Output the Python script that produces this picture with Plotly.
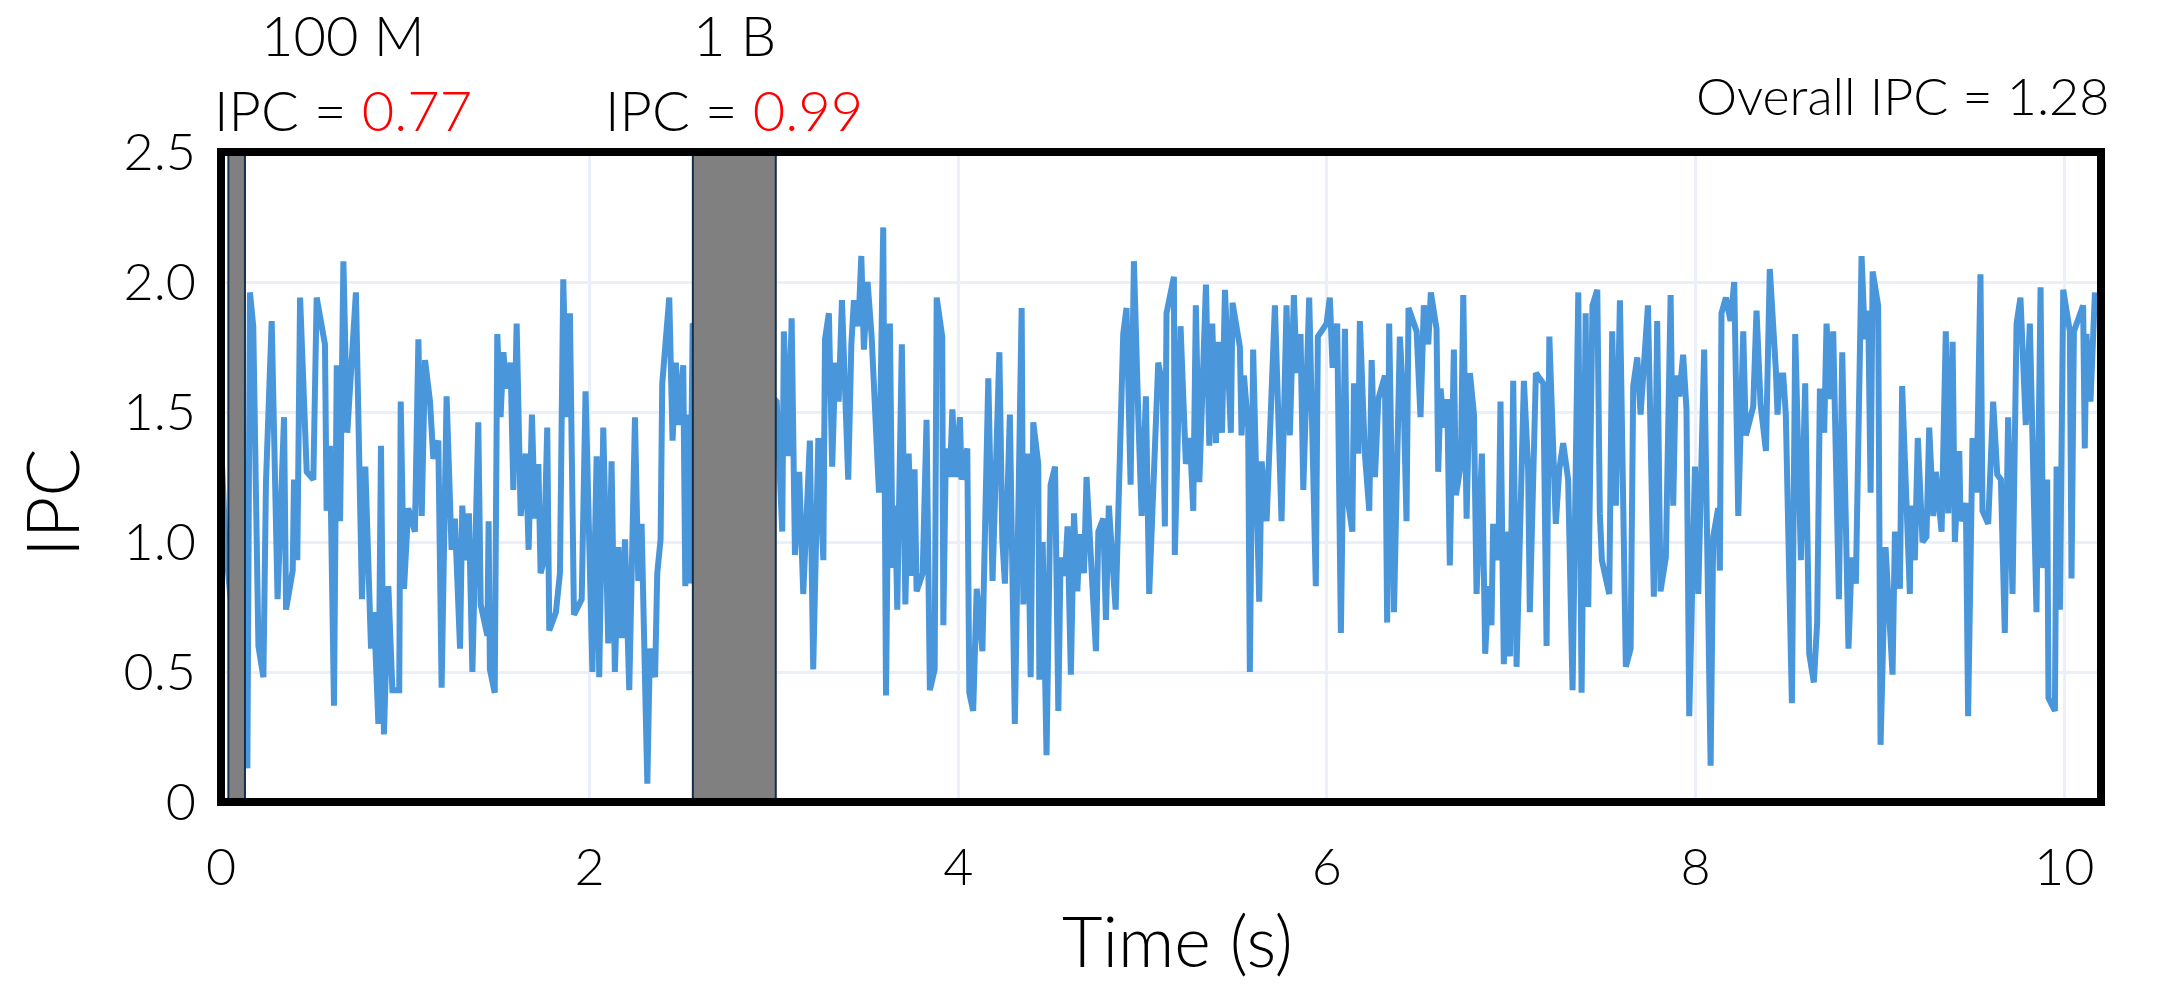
import plotly.graph_objects as go

# IPC trace sampled over the 10 s run
time_s = [
    0.000, 0.025, 0.143, 0.157, 0.175, 0.203, 0.230, 0.244, 0.275, 0.307, 0.342, 0.353, 0.389, 0.396, 0.414, 0.429,
    0.465, 0.501, 0.519, 0.564, 0.573, 0.591, 0.613, 0.628, 0.646, 0.664, 0.685, 0.732, 0.765, 0.783, 0.814, 0.830,
    0.854, 0.868, 0.884, 0.908, 0.930, 0.967, 0.975, 0.993, 1.016, 1.034, 1.052, 1.071, 1.089, 1.107, 1.134, 1.152,
    1.179, 1.197, 1.224, 1.251, 1.269, 1.297, 1.309, 1.327, 1.345, 1.364, 1.396, 1.409, 1.445, 1.452, 1.459, 1.485,
    1.499, 1.517, 1.532, 1.550, 1.571, 1.586, 1.604, 1.626, 1.653, 1.669, 1.687, 1.703, 1.722, 1.734, 1.752, 1.770,
    1.781, 1.817, 1.839, 1.857, 1.875, 1.893, 1.915, 1.957, 1.978, 2.015, 2.038, 2.052, 2.074, 2.101, 2.119, 2.137,
    2.156, 2.174, 2.192, 2.215, 2.246, 2.264, 2.282, 2.313, 2.327, 2.355, 2.367, 2.385, 2.394, 2.432, 2.450, 2.468,
    2.486, 2.508, 2.519, 2.535, 2.544, 2.559, 3.015, 3.045, 3.054, 3.078, 3.096, 3.114, 3.137, 3.159, 3.195, 3.213,
    3.241, 3.268, 3.277, 3.298, 3.316, 3.333, 3.351, 3.369, 3.403, 3.420, 3.434, 3.458, 3.474, 3.488, 3.508, 3.530,
    3.570, 3.593, 3.608, 3.629, 3.644, 3.658, 3.669, 3.694, 3.713, 3.731, 3.749, 3.763, 3.774, 3.807, 3.828, 3.846,
    3.872, 3.883, 3.913, 3.919, 3.933, 3.955, 3.968, 3.986, 4.009, 4.018, 4.049, 4.060, 4.081, 4.100, 4.131, 4.163,
    4.186, 4.223, 4.239, 4.253, 4.280, 4.307, 4.344, 4.353, 4.374, 4.393, 4.407, 4.434, 4.440, 4.458, 4.479, 4.501,
    4.525, 4.543, 4.555, 4.579, 4.593, 4.611, 4.628, 4.646, 4.660, 4.682, 4.696, 4.747, 4.760, 4.787, 4.801, 4.817,
    4.854, 4.895, 4.913, 4.935, 4.953, 4.977, 4.995, 5.018, 5.036, 5.085, 5.109, 5.121, 5.130, 5.170, 5.175, 5.206,
    5.235, 5.257, 5.275, 5.289, 5.308, 5.344, 5.362, 5.378, 5.398, 5.412, 5.431, 5.447, 5.479, 5.488, 5.528, 5.537,
    5.550, 5.573, 5.582, 5.600, 5.633, 5.646, 5.673, 5.718, 5.754, 5.781, 5.799, 5.821, 5.836, 5.857, 5.872, 5.904,
    5.940, 5.951, 5.998, 6.016, 6.031, 6.056, 6.076, 6.098, 6.110, 6.138, 6.147, 6.170, 6.179, 6.206, 6.230, 6.243,
    6.261, 6.279, 6.315, 6.327, 6.338, 6.364, 6.396, 6.418, 6.432, 6.443, 6.487, 6.508, 6.526, 6.550, 6.564, 6.595,
    6.604, 6.617, 6.635, 6.653, 6.667, 6.689, 6.700, 6.727, 6.740, 6.758, 6.776, 6.798, 6.812, 6.841, 6.859, 6.877,
    6.893, 6.902, 6.930, 6.942, 6.960, 6.984, 6.993, 7.011, 7.029, 7.069, 7.092, 7.101, 7.134, 7.174, 7.192, 7.207,
    7.242, 7.261, 7.282, 7.309, 7.333, 7.364, 7.382, 7.404, 7.418, 7.441, 7.467, 7.481, 7.492, 7.532, 7.548, 7.568,
    7.590, 7.622, 7.648, 7.662, 7.684, 7.702, 7.742, 7.774, 7.792, 7.810, 7.839, 7.865, 7.879, 7.893, 7.912, 7.933,
    7.951, 7.966, 7.997, 8.015, 8.047, 8.082, 8.096, 8.123, 8.132, 8.141, 8.165, 8.190, 8.210, 8.232, 8.259, 8.273,
    8.313, 8.331, 8.353, 8.382, 8.403, 8.436, 8.445, 8.458, 8.476, 8.490, 8.523, 8.541, 8.572, 8.595, 8.617, 8.642,
    8.660, 8.675, 8.698, 8.711, 8.729, 8.747, 8.778, 8.796, 8.830, 8.847, 8.870, 8.901, 8.919, 8.937, 8.950, 8.961,
    8.991, 9.004, 9.031, 9.069, 9.082, 9.109, 9.121, 9.163, 9.168, 9.190, 9.206, 9.232, 9.253, 9.268, 9.290, 9.304,
    9.335, 9.358, 9.371, 9.395, 9.407, 9.431, 9.438, 9.467, 9.479, 9.503, 9.525, 9.546, 9.557, 9.588, 9.615, 9.637,
    9.657, 9.678, 9.696, 9.720, 9.742, 9.763, 9.792, 9.814, 9.850, 9.872, 9.886, 9.908, 9.915, 9.950, 9.959, 9.977,
    9.995, 10.031, 10.040, 10.053, 10.103, 10.112, 10.121, 10.143, 10.167,
]

ipc = [
    1.39, 0.98, 0.13, 1.96, 1.83, 0.60, 0.48, 1.23, 1.85, 0.78, 1.48, 0.74, 0.89, 1.24, 0.93, 1.94,
    1.27, 1.24, 1.94, 1.76, 1.12, 1.37, 0.37, 1.68, 1.08, 2.08, 1.42, 1.96, 0.78, 1.29, 0.59, 0.73,
    0.30, 1.37, 0.26, 0.83, 0.43, 0.43, 1.54, 0.82, 1.13, 1.08, 1.04, 1.78, 1.10, 1.70, 1.54, 1.32,
    1.39, 0.44, 1.56, 0.97, 1.09, 0.59, 1.14, 0.93, 1.11, 0.50, 1.46, 0.76, 0.64, 1.08, 0.51, 0.42,
    1.80, 1.48, 1.73, 1.59, 1.69, 1.20, 1.84, 1.10, 1.34, 0.97, 1.49, 1.09, 1.30, 0.88, 0.93, 1.44,
    0.66, 0.73, 0.88, 2.01, 1.48, 1.88, 0.72, 0.78, 1.58, 0.50, 1.33, 0.48, 1.44, 0.61, 1.31, 0.50,
    0.98, 0.63, 1.01, 0.43, 1.48, 0.85, 1.07, 0.07, 0.59, 0.48, 0.88, 1.01, 1.61, 1.94, 1.39, 1.69,
    1.45, 1.68, 0.83, 1.49, 0.84, 1.84, 1.54, 1.04, 1.81, 1.33, 1.86, 0.95, 1.27, 0.80, 1.39, 0.51,
    1.40, 0.93, 1.78, 1.88, 1.29, 1.69, 1.54, 1.93, 1.24, 1.76, 1.93, 1.83, 2.10, 1.74, 2.00, 1.79,
    1.19, 2.21, 0.41, 1.84, 0.90, 1.14, 0.74, 1.76, 0.76, 1.34, 0.87, 1.28, 0.81, 0.88, 1.47, 0.43,
    0.51, 1.94, 1.79, 0.68, 1.36, 1.25, 1.51, 1.25, 1.48, 1.24, 1.36, 0.42, 0.35, 0.82, 0.58, 1.63,
    0.85, 1.73, 1.01, 0.84, 1.49, 0.30, 1.90, 0.76, 1.34, 0.48, 1.46, 1.30, 0.47, 1.00, 0.18, 1.22,
    1.29, 0.35, 0.94, 0.87, 1.06, 0.49, 1.11, 0.81, 1.03, 0.88, 1.25, 0.58, 1.04, 1.09, 0.70, 1.14,
    0.74, 1.80, 1.90, 1.22, 2.08, 1.48, 1.10, 1.56, 0.80, 1.69, 1.60, 1.06, 1.88, 2.02, 0.95, 1.83,
    1.30, 1.40, 1.12, 1.91, 1.23, 1.99, 1.37, 1.84, 1.38, 1.77, 1.42, 1.97, 1.42, 1.92, 1.75, 1.41,
    1.64, 1.44, 0.50, 1.74, 0.77, 1.31, 1.08, 1.91, 1.08, 1.91, 1.41, 1.95, 1.65, 1.80, 1.20, 1.94,
    0.83, 1.79, 1.84, 1.94, 1.67, 1.84, 0.65, 1.82, 1.18, 1.04, 1.61, 1.34, 1.85, 1.34, 1.12, 1.70,
    1.25, 1.55, 1.64, 0.69, 1.84, 0.73, 1.79, 1.50, 1.08, 1.90, 1.81, 1.48, 1.91, 1.76, 1.96, 1.82,
    1.27, 1.59, 1.44, 1.55, 0.91, 1.74, 1.18, 1.30, 1.95, 1.09, 1.65, 1.49, 0.80, 1.34, 0.57, 0.83,
    0.68, 1.07, 0.93, 1.54, 0.53, 1.04, 0.56, 1.62, 0.52, 1.62, 1.28, 0.73, 1.65, 1.61, 0.60, 1.79,
    1.07, 1.28, 1.38, 1.24, 0.43, 1.96, 0.42, 1.88, 0.75, 1.91, 1.97, 1.11, 0.93, 0.80, 1.81, 1.14,
    1.93, 0.52, 0.59, 1.60, 1.71, 1.49, 1.91, 0.79, 1.85, 0.81, 0.94, 1.95, 1.14, 1.64, 1.56, 1.72,
    1.51, 0.33, 1.29, 0.80, 1.74, 0.14, 1.02, 1.13, 0.89, 1.88, 1.94, 1.85, 2.00, 1.10, 1.81, 1.41,
    1.52, 1.89, 1.53, 1.35, 2.05, 1.66, 1.49, 1.64, 1.64, 1.49, 0.38, 1.80, 0.93, 1.61, 0.57, 0.46,
    0.69, 1.59, 1.42, 1.84, 1.55, 1.81, 0.78, 1.73, 0.59, 0.94, 0.84, 2.10, 1.78, 1.89, 1.19, 2.04,
    1.91, 0.22, 0.98, 0.49, 1.04, 0.82, 1.60, 0.80, 1.14, 0.93, 1.40, 1.00, 1.02, 1.44, 1.10, 1.27,
    1.04, 1.81, 1.11, 1.77, 1.00, 1.35, 1.08, 1.15, 0.33, 1.40, 1.19, 2.03, 1.12, 1.07, 1.54, 1.26,
    1.24, 0.65, 1.48, 0.80, 1.84, 1.94, 1.45, 1.84, 0.73, 1.98, 0.90, 1.24, 0.40, 0.35, 1.29, 0.74,
    1.97, 1.81, 0.86, 1.81, 1.91, 1.36, 1.80, 1.54, 1.96,
]

# Sampling windows (start/end in seconds) and their labels
window_start = [0.04, 2.56]
window_end = [0.13, 3.01]
window_size = ["100 M", "1 B"]
window_ipc = ["0.77", "0.99"]
overall_ipc = "1.28"

x_ticks = [0, 2, 4, 6, 8, 10]
y_ticks = [0, 0.5, 1.0, 1.5, 2.0, 2.5]
y_ticktext = ["0", "0.5", "1.0", "1.5", "2.0", "2.5"]

FONT = "Lato"
WEIGHT = 300
GRID = "#EBF0F8"


def text_font(size, color="black"):
    return dict(family=FONT, size=size, color=color, weight=WEIGHT)


fig = go.Figure()
fig.add_trace(go.Scatter(
    x=time_s, y=ipc, mode="lines",
    line=dict(color="#4A96DA", width=6),
    showlegend=False,
))

# Grey sampling windows drawn over the trace
for x0, x1 in zip(window_start, window_end):
    fig.add_shape(type="rect", xref="x", yref="y", x0=x0, x1=x1, y0=0, y1=2.5,
                  fillcolor="#808080", line=dict(color="#12304D", width=2), layer="above")

# Heavy frame around the plotting area
fig.add_shape(type="rect", xref="paper", yref="paper", x0=0, x1=1, y0=0, y1=1,
              line=dict(color="black", width=8), layer="above")

# Window labels above the frame
centers = [(a + b) / 2 for a, b in zip(window_start, window_end)]
label_x = [0.66, centers[1]]
for lx, size, val in zip(label_x, window_size, window_ipc):
    fig.add_annotation(x=lx, xref="x", y=1.1815, yref="paper", text=size, showarrow=False,
                       xanchor="center", yanchor="middle", font=text_font(56))
    fig.add_annotation(x=lx, xref="x", y=1.066, yref="paper",
                       text=f"IPC = <span style='color:#FF0000'>{val}</span>", showarrow=False,
                       xanchor="center", yanchor="middle", font=text_font(56))

fig.add_annotation(x=1.0053, xref="paper", y=1.088, yref="paper", text=f"Overall IPC = {overall_ipc}",
                   showarrow=False, xanchor="right", yanchor="middle", font=text_font(52))

# Axis titles
fig.add_annotation(x=0.509, xref="paper", y=-0.212, yref="paper", text="Time (s)", showarrow=False,
                   xanchor="center", yanchor="middle", font=text_font(70))
fig.add_annotation(x=-0.0904, xref="paper", y=0.46, yref="paper", text="IPC", showarrow=False,
                   textangle=-90, xanchor="center", yanchor="middle", font=text_font(72))

fig.update_layout(
    width=2178, height=985,
    margin=dict(l=221, r=77, t=152, b=183),
    paper_bgcolor="white", plot_bgcolor="white",
    font=dict(family=FONT, color="black"),
    xaxis=dict(range=[0, 10.2], tickvals=x_ticks, showgrid=True, gridcolor=GRID, gridwidth=3,
               zeroline=False, showline=False, ticks="", ticklabelstandoff=30,
               tickfont=text_font(52)),
    yaxis=dict(range=[0, 2.5], tickvals=y_ticks, ticktext=y_ticktext, showgrid=True,
               gridcolor=GRID, gridwidth=3, zeroline=False, showline=False, ticks="",
               ticklabelstandoff=24, tickfont=text_font(52)),
)

fig.write_html("out.html")
